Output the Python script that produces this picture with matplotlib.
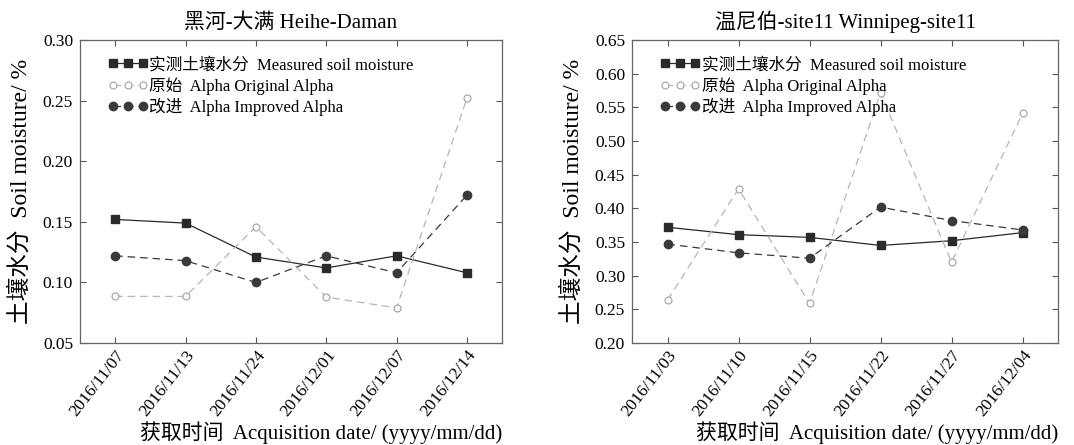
import numpy as np
import matplotlib.pyplot as plt

plt.rcParams['font.family'] = ['Liberation Serif', 'Noto Sans CJK SC', 'DejaVu Sans']

# 黑河-大满
dates_hd = ['2016/11/07', '2016/11/13', '2016/11/24', '2016/12/01', '2016/12/07', '2016/12/14']
measured_hd = [0.152, 0.149, 0.121, 0.112, 0.122, 0.108]
original_hd = [0.0885, 0.0885, 0.146, 0.088, 0.079, 0.252]
improved_hd = [0.122, 0.118, 0.100, 0.122, 0.108, 0.172]

# 温尼伯-site11
dates_wp = ['2016/11/03', '2016/11/10', '2016/11/15', '2016/11/22', '2016/11/27', '2016/12/04']
measured_wp = [0.372, 0.361, 0.357, 0.345, 0.352, 0.364]
original_wp = [0.264, 0.429, 0.259, 0.572, 0.320, 0.541]
improved_wp = [0.347, 0.334, 0.326, 0.402, 0.382, 0.368]

fig = plt.figure(figsize=(10.74, 4.45), dpi=100)
ax1 = fig.add_axes([0.0745, 0.229, 0.393, 0.681])
ax2 = fig.add_axes([0.5885, 0.229, 0.3966, 0.681])


def draw(ax, dates, meas, orig, impr, title, ylim, yticks):
    x = np.arange(len(dates))
    ax.plot(x, meas, '-', color='#2a2a2a', lw=0.9, marker='s', ms=5.5,
            label='实测土壤水分  Measured soil moisture')
    ax.plot(x, orig, '--', color='#b5b5b5', lw=0.9, marker='o', ms=5,
            mfc='white', mec='#a0a0a0', mew=0.8, dashes=(6, 4),
            label='原始  Alpha Original Alpha')
    ax.plot(x, impr, '--', color='#3a3a3a', lw=0.9, marker='o', ms=6,
            dashes=(6, 4), label='改进  Alpha Improved Alpha')
    ax.set_xlim(-0.5, len(dates) - 0.5)
    ax.set_ylim(*ylim)
    ax.set_yticks(yticks)
    ax.set_yticklabels(['%.2f' % v for v in yticks])
    ax.set_xticks(x)
    ax.set_xticklabels(dates, rotation=52, ha='right', rotation_mode='anchor')
    ax.tick_params(direction='in', top=True, right=True, labelsize=12.5,
                   color='#555555', length=4, width=0.8, pad=5)
    ax.tick_params(axis='x', pad=3)
    for s in ax.spines.values():
        s.set_color('#666666')
        s.set_linewidth(0.9)
    ax.set_title(title, fontsize=15, pad=9)
    ax.set_ylabel('土壤水分  Soil moisture/ %', fontsize=17, labelpad=8)
    ax.set_xlabel('获取时间  Acquisition date/ (yyyy/mm/dd)', fontsize=15)
    ax.xaxis.set_label_coords(1.0, -0.258)
    ax.xaxis.label.set_ha('right')
    ax.legend(loc='upper left', frameon=False, numpoints=3, fontsize=12,
              handlelength=2.4, handletextpad=0.1, labelspacing=0.22,
              bbox_to_anchor=(0.05, 0.965), borderaxespad=0)


draw(ax1, dates_hd, measured_hd, original_hd, improved_hd, '黑河-大满 Heihe-Daman',
     (0.05, 0.30), [0.05, 0.10, 0.15, 0.20, 0.25, 0.30])
draw(ax2, dates_wp, measured_wp, original_wp, improved_wp, '温尼伯-site11 Winnipeg-site11',
     (0.20, 0.65), [0.20, 0.25, 0.30, 0.35, 0.40, 0.45, 0.50, 0.55, 0.60, 0.65])

fig.savefig('out.png', dpi=100)
